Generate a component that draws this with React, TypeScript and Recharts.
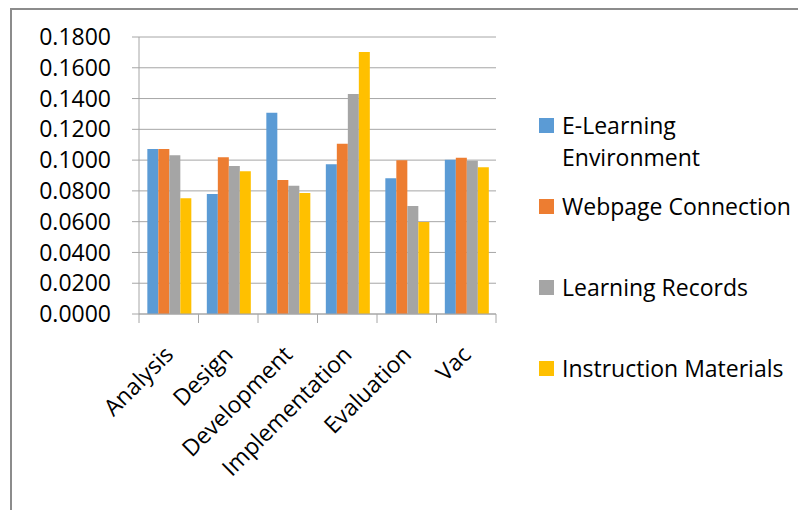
import { Bar, BarChart, CartesianGrid, Legend, XAxis, YAxis } from 'recharts';

const categories = ['Analysis', 'Design', 'Development', 'Implementation', 'Evaluation', 'Vac'];
const eLearning = [0.1072, 0.078, 0.1308, 0.0973, 0.0882, 0.1003];
const webpage = [0.1072, 0.1018, 0.0871, 0.1107, 0.0999, 0.1016];
const records = [0.1031, 0.0962, 0.0834, 0.143, 0.0702, 0.0996];
const materials = [0.0752, 0.0927, 0.0786, 0.1703, 0.0598, 0.0953];
const yTicks = [0, 0.02, 0.04, 0.06, 0.08, 0.1, 0.12, 0.14, 0.16, 0.18];

const seriesNames = ['E-Learning Environment', 'Webpage Connection', 'Learning Records', 'Instruction Materials'];
const colors = ['#5b9bd5', '#ed7d31', '#a5a5a5', '#ffc000'];

const data = categories.map((name, i) => ({
    name,
    eLearning: eLearning[i],
    webpage: webpage[i],
    records: records[i],
    materials: materials[i],
}));

const FONT = '"Open Sans", sans-serif';
const AXIS_GRAY = '#a6a6a6';
const PLOT_WIDTH = 357;
const BAND = PLOT_WIDTH / categories.length;

const CategoryTick = (props: any) => {
    const { x, y, payload, index } = props;
    const half = BAND / 2;
    const tx = x + 6;
    const ty = y + 42;
    return (
        <g>
            <line x1={x - half} y1={y} x2={x - half} y2={y + 9} stroke={AXIS_GRAY} />
            {index === categories.length - 1 && (
                <line x1={x + half} y1={y} x2={x + half} y2={y + 9} stroke={AXIS_GRAY} />
            )}
            <text
                x={tx}
                y={ty}
                textAnchor="end"
                transform={`rotate(-45, ${tx}, ${ty})`}
                fontFamily={FONT}
                fontSize={23}
                fill="#000"
            >
                {payload.value}
            </text>
        </g>
    );
};

// keep the series order instead of the alphabetical default
const LegendList = ({ payload }: any) => {
    const items = [...(payload || [])].sort(
        (a: any, b: any) => seriesNames.indexOf(a.value) - seriesNames.indexOf(b.value)
    );
    return (
        <div style={{ fontFamily: FONT, fontSize: 23, lineHeight: '32px', color: '#000' }}>
            {items.map((entry: any, i: number) => (
                <div key={i} style={{ display: 'flex', alignItems: 'flex-start', height: 81 }}>
                    <span
                        style={{
                            width: 15,
                            height: 15,
                            background: entry.color,
                            marginTop: 9,
                            marginRight: 8,
                            flex: 'none',
                        }}
                    />
                    <span style={{ width: 240 }}>{entry.value}</span>
                </div>
            ))}
        </div>
    );
};

export default function App() {
    return (
        <div
            style={{
                marginLeft: 2,
                borderLeft: '2px solid #8c8c8c',
                borderTop: '2px solid #8c8c8c',
                width: 794,
                height: 500,
            }}
        >
            <BarChart
                width={794}
                height={500}
                data={data}
                margin={{ top: 27, right: 40, left: 0, bottom: 46 }}
                barCategoryGap="14%"
                barGap={0}
            >
                <CartesianGrid vertical={false} stroke={AXIS_GRAY} />
                <XAxis
                    dataKey="name"
                    height={150}
                    interval={0}
                    tickLine={false}
                    tickSize={0}
                    tickMargin={0}
                    stroke={AXIS_GRAY}
                    tick={<CategoryTick />}
                />
                <YAxis
                    width={127}
                    domain={[0, 0.18]}
                    ticks={yTicks}
                    tickFormatter={(v: number) => v.toFixed(4)}
                    stroke={AXIS_GRAY}
                    tickSize={7}
                    tickMargin={21}
                    tick={{ fill: '#000', fontSize: 23, fontFamily: FONT }}
                    interval={0}
                />
                <Legend
                    layout="vertical"
                    align="right"
                    verticalAlign="top"
                    content={<LegendList />}
                    wrapperStyle={{ width: 270, left: 527, top: 99 }}
                />
                <Bar dataKey="eLearning" name={seriesNames[0]} fill={colors[0]} isAnimationActive={false} />
                <Bar dataKey="webpage" name={seriesNames[1]} fill={colors[1]} isAnimationActive={false} />
                <Bar dataKey="records" name={seriesNames[2]} fill={colors[2]} isAnimationActive={false} />
                <Bar dataKey="materials" name={seriesNames[3]} fill={colors[3]} isAnimationActive={false} />
            </BarChart>
        </div>
    );
}
